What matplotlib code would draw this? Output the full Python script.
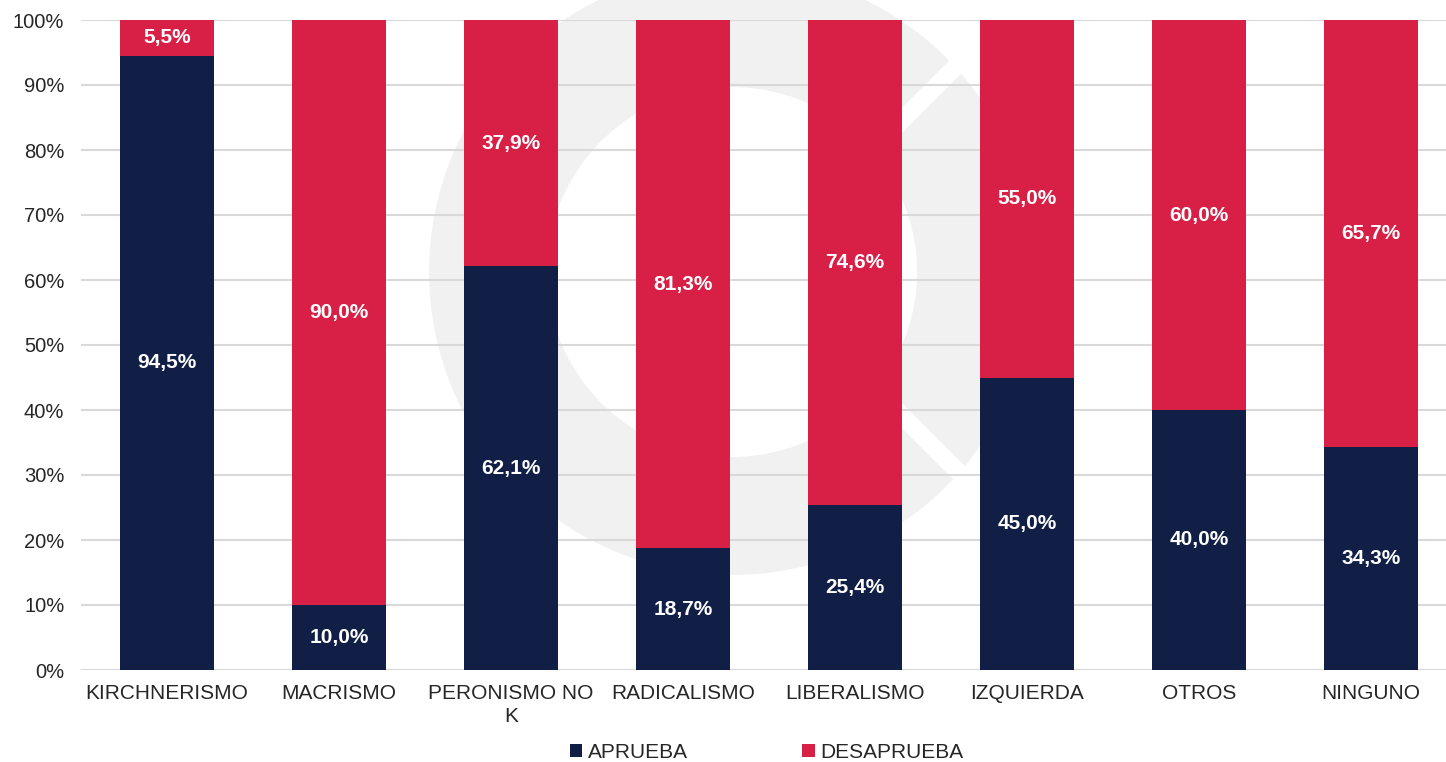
import numpy as np
import matplotlib
matplotlib.use("Agg")
import matplotlib.pyplot as plt
from matplotlib.patches import Wedge

plt.rcParams["font.family"] = ["Liberation Sans", "DejaVu Sans"]

# data
categories = ["KIRCHNERISMO", "MACRISMO", "PERONISMO NO\nK", "RADICALISMO",
              "LIBERALISMO", "IZQUIERDA", "OTROS", "NINGUNO"]
aprueba = [94.5, 10.0, 62.1, 18.7, 25.4, 45.0, 40.0, 34.3]
desaprueba = [5.5, 90.0, 37.9, 81.3, 74.6, 55.0, 60.0, 65.7]
series_names = ["APRUEBA", "DESAPRUEBA"]
colors = ["#111f47", "#d81f45"]

W, H = 1446, 762
fig = plt.figure(figsize=(W / 100, H / 100), dpi=100)


def px(x, y):
    # image pixel -> inches (figure, origin bottom-left)
    return (x / 100, (H - y) / 100)


# faint watermark logo behind the chart: a ring with a notch and a chevron
wm = "#f1f1f1"
tr = fig.dpi_scale_trans
ring = Wedge(px(732, 272), 3.03, 0, 360, width=1.18, facecolor=wm)
notch = Wedge(px(742, 268), 4.0, -45, 45, facecolor="white")
chevron = Wedge(px(732, 272), 3.03, 0, 360, width=1.18, facecolor=wm)
clip = Wedge(px(767, 268), 4.0, -45, 45, transform=tr)
for p in (ring, notch, chevron):
    p.set_transform(tr)
    p.set_edgecolor("none")
    p.set_zorder(-1)
    fig.patches.append(p)
chevron.set_clip_path(clip)

ax = fig.add_axes([81 / W, (H - 670) / H, 1376 / W, 650 / H])
ax.set_facecolor("none")

x = np.arange(len(categories))
bw = 0.55
ax.bar(x, aprueba, bw, color=colors[0], label=series_names[0], zorder=3)
ax.bar(x, desaprueba, bw, bottom=aprueba, color=colors[1], label=series_names[1], zorder=3)

for i in range(len(categories)):
    ax.text(x[i], aprueba[i] / 2, f"{aprueba[i]:.1f}%".replace(".", ","),
            ha="center", va="center", color="white", fontsize=15,
            fontweight="bold", zorder=4)
    ax.text(x[i], aprueba[i] + desaprueba[i] / 2,
            f"{desaprueba[i]:.1f}%".replace(".", ","),
            ha="center", va="center", color="white", fontsize=15,
            fontweight="bold", zorder=4)

ax.set_xlim(-0.5, len(categories) - 0.5)
ax.set_ylim(0, 100)
ax.set_yticks(np.arange(0, 101, 10))
ax.set_yticklabels([f"{v}%" for v in range(0, 101, 10)])
ax.set_xticks(x)
ax.set_xticklabels(categories, linespacing=1.3)
ax.yaxis.grid(True, color="#d9d9d9", linewidth=1.5, zorder=1)
ax.set_axisbelow(True)
for s in ax.spines.values():
    s.set_visible(False)
ax.tick_params(axis="both", length=0, labelcolor="#262626")
ax.tick_params(axis="y", pad=12, labelsize=14.5)
ax.tick_params(axis="x", pad=10, labelsize=15)

fig.legend(loc="lower center", bbox_to_anchor=(0.53, -0.024), ncol=2, frameon=False,
           fontsize=15, handlelength=0.6, handleheight=0.6, handletextpad=0.25,
           columnspacing=5.5, labelcolor="#262626")

fig.savefig("out.png", dpi=100)
